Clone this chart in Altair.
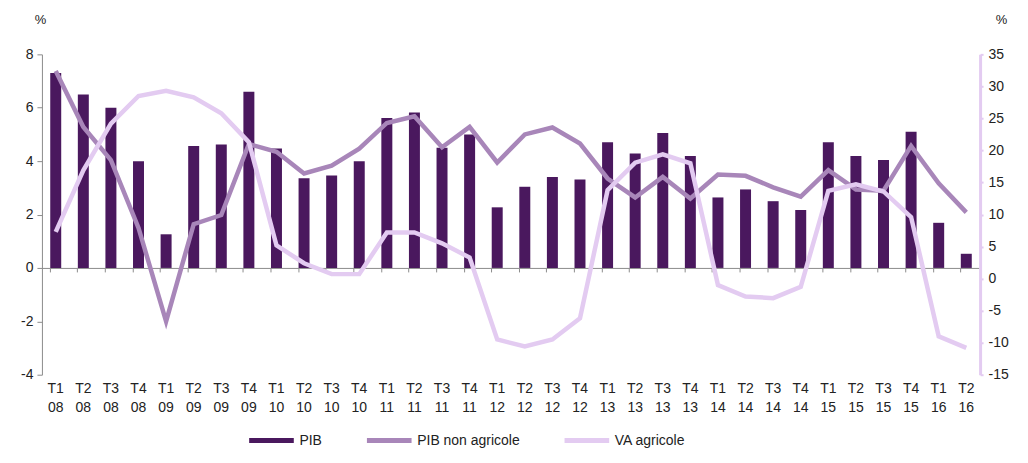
import altair as alt
import pandas as pd

quarters = ["T1 08","T2 08","T3 08","T4 08","T1 09","T2 09","T3 09","T4 09",
            "T1 10","T2 10","T3 10","T4 10","T1 11","T2 11","T3 11","T4 11",
            "T1 12","T2 12","T3 12","T4 12","T1 13","T2 13","T3 13","T4 13",
            "T1 14","T2 14","T3 14","T4 14","T1 15","T2 15","T3 15","T4 15",
            "T1 16","T2 16"]

pib = [7.3, 6.5, 6.0, 4.0, 1.26, 4.57, 4.62, 6.6,
       4.47, 3.36, 3.46, 4.0, 5.62, 5.82, 4.5, 5.0,
       2.27, 3.04, 3.41, 3.31, 4.71, 4.29, 5.05, 4.19,
       2.64, 2.94, 2.5, 2.17, 4.71, 4.19, 4.04, 5.1,
       1.69, 0.53]

pib_non_agri = [7.38, 5.28, 4.04, 1.5, -2.0, 1.64, 1.98, 4.64,
                4.35, 3.54, 3.83, 4.47, 5.43, 5.68, 4.52, 5.28,
                3.95, 5.0, 5.26, 4.66, 3.35, 2.64, 3.41, 2.6,
                3.5, 3.45, 3.02, 2.67, 3.66, 2.94, 2.89, 4.57,
                3.17, 2.08]

va_agri = [7.3, 16.9, 24.2, 28.5, 29.3, 28.3, 25.8, 21.3,
           5.2, 2.4, 0.7, 0.7, 7.2, 7.2, 5.5, 3.3,
           -9.5, -10.6, -9.5, -6.2, 13.8, 18.1, 19.4, 18.0,
           -1.0, -2.8, -3.05, -1.3, 13.7, 14.7, 13.6, 9.6,
           -9.0, -10.8]

series_names = ["PIB", "PIB non agricole", "VA agricole"]
series_colors = ["#4A185E", "#A886B9", "#E3CBF1"]

df_pib = pd.DataFrame({"q": quarters, "v": pib, "s": series_names[0]})
df_na = pd.DataFrame({"q": quarters, "v": pib_non_agri, "s": series_names[1]})
df_va = pd.DataFrame({"q": quarters, "v": va_agri, "s": series_names[2]})

W, H = 940, 321
FONT = "Liberation Sans"

color = alt.Color("s:N", scale=alt.Scale(domain=series_names, range=series_colors),
                  legend=alt.Legend(title=None, orient="none", direction="horizontal",
                                    legendX=205, legendY=362,
                                    symbolType="stroke", symbolStrokeWidth=5,
                                    symbolSize=2000, labelFontSize=14, labelFont=FONT,
                                    labelColor="#222", columnPadding=34, labelOffset=3))

xenc = alt.X("q:N", sort=quarters, title=None,
             scale=alt.Scale(paddingInner=0.6, paddingOuter=0.3),
             axis=alt.Axis(offset=-107, bandPosition=0,
                           labelAngle=0, labelPadding=110, tickSize=4,
                           domainColor="#8c8c8c", tickColor="#8c8c8c",
                           labelExpr="split(datum.label, ' ')", labelLineHeight=19,
                           labelFontSize=14, labelFont=FONT, labelColor="#222"))

yleft = alt.Scale(domain=[-4, 8], nice=False)
left_axis = alt.Axis(values=[-4, -2, 0, 2, 4, 6, 8], title="%", titleAngle=0,
                     titleX=-2, titleY=-28, titleAlign="center", titleFontWeight="normal",
                     titleFontSize=13, titleFont=FONT, titleColor="#222",
                     labelExpr="'' + datum.value",
                     grid=False, tickSize=5, domainColor="#8c8c8c", tickColor="#8c8c8c",
                     labelFontSize=14, labelFont=FONT, labelColor="#222", labelPadding=4)

bars = alt.Chart(df_pib).mark_bar(size=11).encode(
    x=xenc,
    y=alt.Y("v:Q", scale=yleft, axis=left_axis),
    color=color,
)

line_na = alt.Chart(df_na).mark_line(strokeWidth=4.5).encode(
    x=alt.X("q:N", sort=quarters),
    y=alt.Y("v:Q", scale=yleft),
    color=color,
)

line_va = alt.Chart(df_va).mark_line(strokeWidth=4.5).encode(
    x=alt.X("q:N", sort=quarters),
    y=alt.Y("v:Q", scale=alt.Scale(domain=[-15, 35], nice=False),
            axis=alt.Axis(values=list(range(-15, 40, 5)), orient="right", title="%",
                          titleAngle=0, titleX=21, titleY=-28, titleAlign="center",
                          titleFontWeight="normal", titleFontSize=13, titleFont=FONT,
                          titleColor="#222", grid=False, domainColor="#E3CBF1",
                          labelExpr="'' + datum.value",
                          domainWidth=3, tickColor="#E3CBF1", tickWidth=2, tickSize=3,
                          labelFontSize=14, labelFont=FONT, labelColor="#222",
                          labelPadding=5)),
    color=color,
)

left = alt.layer(bars, line_na)
chart = alt.layer(left, line_va).resolve_scale(y="independent").properties(
    width=W, height=H,
    autosize=alt.AutoSizeParams(type="none"),
    padding={"left": 34, "top": 46, "right": 40, "bottom": 80},
).configure_view(stroke=None)

chart.save("out.html", embed_options={"renderer": "svg", "actions": False})
